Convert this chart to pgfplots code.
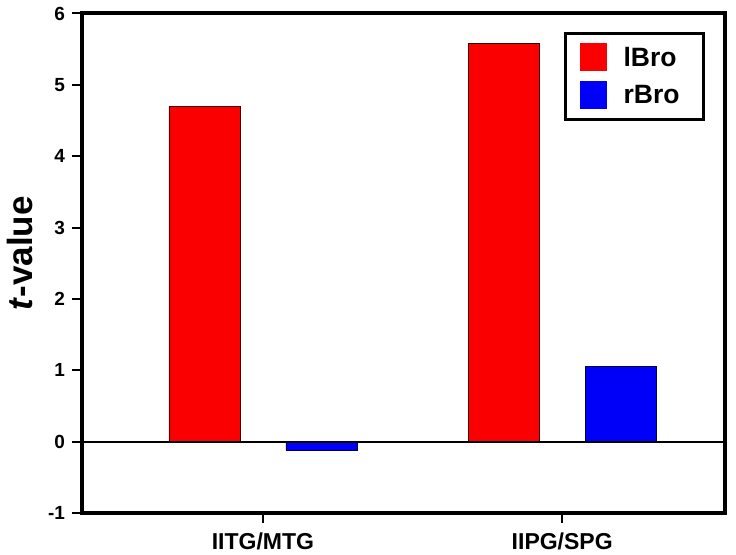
\documentclass[border=0pt]{standalone}
\usepackage{pgfplots}
\pgfplotsset{compat=1.18}
\usepackage{fontspec}
\setmainfont{Liberation Sans}
\definecolor{BarRed}{RGB}{250,0,0}
\definecolor{BarBlue}{RGB}{0,0,250}
\begin{document}
\begin{tikzpicture}
\begin{axis}[
    scale only axis,
    width=642.5pt, height=499.5pt,
    xmin=-0.603, xmax=1.544,
    ymin=-1, ymax=6,
    ytick={-1,0,...,6},
    xtick={0,1},
    xticklabels={IITG/MTG, IIPG/SPG},
    axis line style={draw=none},
    tick style={line width=2pt, black},
    major tick length=10pt,
    tick align=outside,
    xtick pos=bottom, ytick pos=left,
    /pgf/number format/assume math mode=true,
    yticklabel style={font=\fontsize{19}{21}\selectfont\bfseries, xshift=-4pt},
    xticklabel style={font=\fontsize{23}{26}\selectfont\bfseries, yshift=-6pt},
    ylabel={\textbf{\textit{t}-value}},
    every axis y label/.style={at={([xshift=-63pt, yshift=10pt]rel axis cs:0,0.5)},
        rotate=90, anchor=center, font=\fontsize{35}{40}\selectfont\bfseries},
    legend style={at={(0.969,0.963)}, anchor=north east, draw=black, line width=3pt,
        font=\fontsize{26.5}{29}\selectfont\bfseries, row sep=10pt, column sep=15pt,
        inner xsep=14pt, inner ysep=10pt},
    legend image code/.code={\fill[#1, draw=none] (0pt,-14pt) rectangle (27pt,14pt);},
    legend cell align=left,
    clip=false,
]
\addplot[ybar, bar width=71pt, bar shift=-58.5pt, fill=BarRed, draw=black!75!red, line width=0.8pt]
    coordinates {(0,4.70) (1,5.58)};
\addplot[ybar, bar width=71pt, bar shift=58.5pt, fill=BarBlue, draw=black!75!blue, line width=0.8pt]
    coordinates {(0,-0.12) (1,1.05)};
\legend{lBro\rule{8pt}{0pt}, rBro\rule{8pt}{0pt}}
\draw[line width=2pt] (axis cs:-0.603,0) -- (axis cs:1.544,0);
\draw[line width=4pt] (rel axis cs:0,0) rectangle (rel axis cs:1,1);
\end{axis}
\pgfresetboundingbox
\path ([shift={(-82.5pt,-41.5pt)}]current axis.south west) rectangle ([shift={(11pt,13.5pt)}]current axis.north east);
\end{tikzpicture}
\end{document}
